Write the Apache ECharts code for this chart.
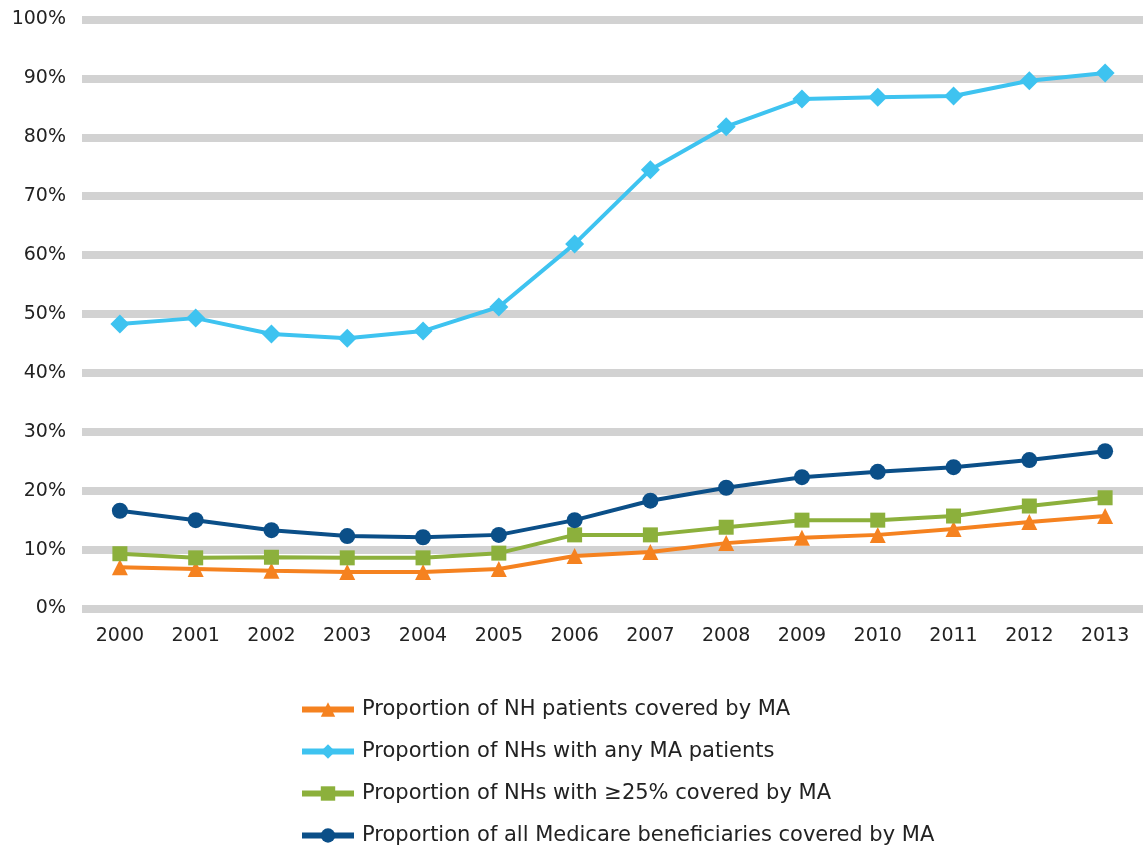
<!DOCTYPE html>
<html><head><meta charset="utf-8">
<script src="https://cdn.jsdelivr.net/npm/echarts@6/dist/echarts.min.js"></script>
<style>html,body{margin:0;padding:0;background:#fff}#c{width:1145px;height:852px}</style>
</head><body><div id="c"></div>
<script>
const years = ['2000','2001','2002','2003','2004','2005','2006','2007','2008','2009','2010','2011','2012','2013'];
const nhPatients = [7.0,6.7,6.4,6.2,6.2,6.7,8.9,9.6,11.1,12.0,12.5,13.5,14.7,15.7];
const nhsAnyMA = [48.3,49.3,46.6,45.9,47.1,51.2,61.9,74.5,81.8,86.5,86.8,87.0,89.6,90.9];
const nhs25 = [9.3,8.6,8.7,8.6,8.6,9.4,12.5,12.5,13.8,15.0,15.0,15.7,17.4,18.8];
const allBenef = [16.6,15.0,13.3,12.3,12.1,12.5,15.0,18.3,20.5,22.3,23.2,24.0,25.2,26.7];
const names = ['Proportion of NH patients covered by MA','Proportion of NHs with any MA patients','Proportion of NHs with \u226525% covered by MA','Proportion of all Medicare beneficiaries covered by MA'];
const colors = ['#f58220','#3ec3f0','#8cb03c','#0b4f88'];
const symbols = ['triangle','diamond','rect','circle'];
const sizes = [16,19,15,16];
const datas = [nhPatients, nhsAnyMA, nhs25, allBenef];
const font = '"DejaVu Sans", sans-serif';
const chart = echarts.init(document.getElementById('c'));
chart.setOption({
  animation:false,
  color: colors,
  grid:{left:82,right:2,top:19.5,bottom:243.5,containLabel:false},
  legend:{orient:'vertical',left:294,top:694,height:200,itemWidth:52,itemHeight:18,itemGap:21,
    lineStyle:{width:6},
    textStyle:{fontFamily:font,fontSize:21,color:'#222',padding:[0,0,0,3]},
    data:names},
  xAxis:{type:'category',data:years,boundaryGap:true,
    axisLine:{show:false},axisTick:{show:false},
    axisLabel:{margin:18,fontFamily:font,fontSize:19,color:'#222'}},
  yAxis:{type:'value',min:0,max:100,interval:10,
    axisLine:{show:false},axisTick:{show:false},
    axisLabel:{formatter:'{value}%',margin:16,fontFamily:font,fontSize:19,color:'#222'},
    splitLine:{lineStyle:{color:'#d2d2d2',width:8}}},
  series: datas.map((d,i)=>({name:names[i],type:'line',data:d,symbol:symbols[i],symbolSize:sizes[i],
    lineStyle:{width:4,color:colors[i]},itemStyle:{color:colors[i]},z:[3,2,4,5][i]}))
});
</script></body></html>
